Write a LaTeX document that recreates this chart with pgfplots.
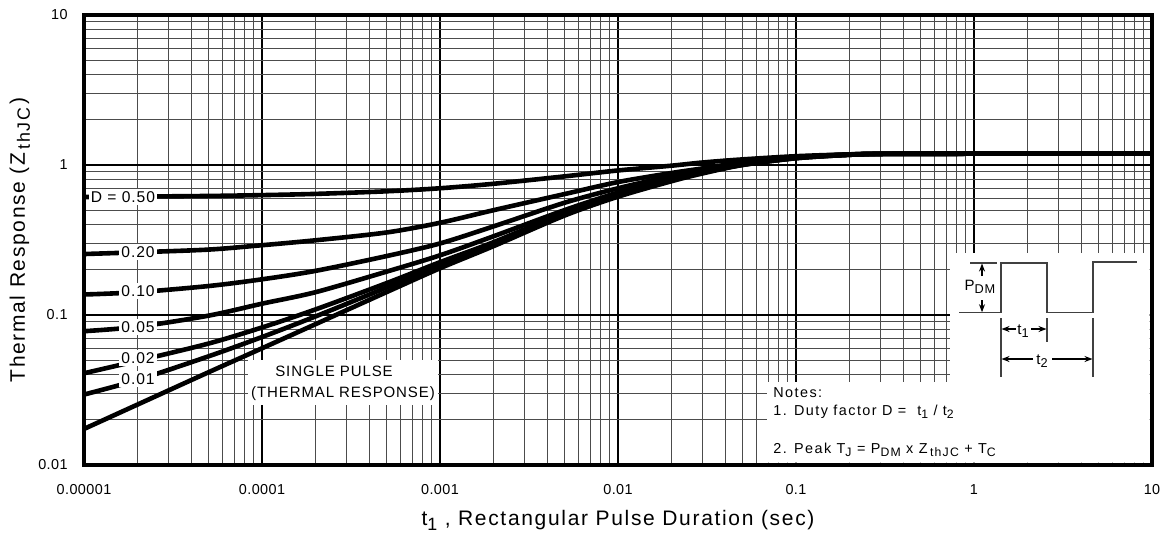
\documentclass[border=0pt]{standalone}
\usepackage{fontspec}
\setmainfont{Liberation Sans}
\newfontfamily\tickfont[LetterSpace=3]{Liberation Sans}
\newfontfamily\labfont[LetterSpace=8]{Liberation Sans}
\newfontfamily\annfont[LetterSpace=6]{Liberation Sans}
\newfontfamily\notefont[LetterSpace=10]{Liberation Sans}
\usepackage{pgfplots}
\pgfplotsset{compat=1.18}
\usetikzlibrary{arrows.meta}

% larger, lower subscripts as in the datasheet
\newcommand{\sub}[1]{\raisebox{-0.45ex}{\scalebox{0.85}{#1}}}

\pgfplotsset{zcurve/.style={black, solid, line width=2.3pt, smooth, mark=none}}

% single pulse and duty-cycle curves, Z_thJC vs t1
\pgfplotstableread{
t      sp      d01     d02     d05     d10     d20     d50
1e-5   0.0174  0.0295  0.0409  0.078   0.137   0.255   0.612
2e-5   0.0253  0.0369  0.0495  0.0835  0.142   0.262   0.616
5e-5   0.0415  0.053   0.0645  0.099   0.156   0.273   0.622
1e-4   0.060   0.0713  0.0826  0.119   0.173   0.292   0.630
2e-4   0.0869  0.0979  0.109   0.142   0.197   0.315   0.642
5e-4   0.142   0.1524  0.163   0.1945  0.247   0.355   0.668
1e-3   0.205   0.2149  0.225   0.25    0.30    0.412   0.70
2e-3   0.288   0.297   0.306   0.335   0.39    0.50    0.75
5e-3   0.46    0.47    0.48    0.50    0.56    0.64    0.84
1e-2   0.615   0.628   0.64    0.655   0.70    0.77    0.92
2e-2   0.78    0.79    0.80    0.815   0.845   0.885   0.99
3e-2   0.88    0.89    0.895   0.905   0.925   0.95    1.04
5e-2   1.00    1.002   1.005   1.015   1.025   1.04    1.09
0.1    1.11    1.11    1.115   1.12    1.125   1.13    1.145
0.2    1.17    1.17    1.17    1.175   1.175   1.175   1.178
0.3    1.185   1.185   1.185   1.187   1.187   1.186   1.188
1      1.19    1.19    1.19    1.19    1.19    1.19    1.19
10     1.19    1.19    1.19    1.19    1.19    1.19    1.19
}\zth

\begin{document}
\begin{tikzpicture}
\begin{axis}[
    at={(0,0)}, anchor=south west,
    scale only axis, width=534pt, height=225pt,
    xmode=log, ymode=log,
    xmin=1e-5, xmax=10, ymin=0.01, ymax=10,
    xtick={1e-5,1e-4,1e-3,1e-2,1e-1,1,10},
    xticklabels={0.00001,0.0001,0.001,0.01,0.1,1,10},
    ytick={0.01,0.1,1,10},
    yticklabels={0.01,0.1,1,10},
    grid=both,
    major grid style={black, line width=1pt},
    minor grid style={black!70, line width=0.55pt},
    major tick length=0pt, minor tick length=0pt,
    axis line style={line width=2.2pt},
    xticklabel style={anchor=center, yshift=-12.5pt, font=\tickfont\fontsize{7.2}{8}\selectfont},
    yticklabel style={anchor=east, inner sep=0pt, xshift=-8pt, font=\tickfont\fontsize{7.2}{8}\selectfont},
    xlabel={t\sub{1} , Rectangular Pulse Duration (sec)},
    ylabel={Thermal Response (Z\,\sub{thJC}\,)},
    xlabel style={at={(axis description cs:0.5,-0.1222)}, anchor=center, font=\labfont\fontsize{10.5}{12}\selectfont},
    ylabel style={at={(axis description cs:-0.06,0.5)}, anchor=center, font=\labfont\fontsize{10.5}{12}\selectfont},
]
\addplot[zcurve] table[x=t, y=d50] {\zth};
\addplot[zcurve] table[x=t, y=d20] {\zth};
\addplot[zcurve] table[x=t, y=d10] {\zth};
\addplot[zcurve] table[x=t, y=d05] {\zth};
\addplot[zcurve] table[x=t, y=d02] {\zth};
\addplot[zcurve] table[x=t, y=d01] {\zth};
\addplot[zcurve] table[x=t, y=sp]  {\zth};
\end{axis}

% annotations, in pixel units of the 1166x538 reference
\begin{scope}[x=0.5pt, y=-0.5pt, shift={(-42pt,232.5pt)}]
  \begin{scope}[every node/.style={fill=white, inner sep=1pt, font=\annfont\fontsize{7.8}{9}\selectfont}]
    \node at (123,197) {D = 0.50};
    \node at (138,252) {0.20};
    \node at (138,291) {0.10};
    \node at (138,327) {0.05};
    \node at (138,358) {0.02};
    \node at (138,379) {0.01};
  \end{scope}
  \fill[white] (248,360) rectangle (438,405);
  \node[font=\annfont\fontsize{7.5}{9}\selectfont] at (334,371) {SINGLE PULSE};
  \node[font=\annfont\fontsize{7.5}{9}\selectfont] at (343,394) {(THERMAL RESPONSE)};
  % notes panel
  \fill[white] (950,253) -- (1149.5,253) -- (1149.5,462.5) -- (767,462.5) -- (767,382) -- (950,382) -- cycle;
  \begin{scope}[black!75, line width=0.7pt]
    \draw (959,312.7) -- (1001,312.7) -- (1001,263) -- (1047,263) -- (1047,312.7)
          -- (1093,312.7) -- (1093,262) -- (1137,262);
    \draw (970,263) -- (997,263);
    \draw[-{Stealth[length=4pt,width=3pt]}, black] (982,276) -- (982,263.5);
    \draw[-{Stealth[length=4pt,width=3pt]}, black] (982,300) -- (982,312.2);
    \draw (1001,318) -- (1001,377);
    \draw (1047,318) -- (1047,342);
    \draw (1093,318) -- (1093,377);
    \draw[-{Stealth[length=4pt,width=3pt]}, black] (1016,329) -- (1001.5,329);
    \draw[-{Stealth[length=4pt,width=3pt]}, black] (1031,329) -- (1046.5,329);
    \draw[-{Stealth[length=4pt,width=3pt]}, black] (1033,359) -- (1001.5,359);
    \draw[-{Stealth[length=4pt,width=3pt]}, black] (1052,359) -- (1092.5,359);
  \end{scope}
  \node[font=\annfont\fontsize{7.5}{8}\selectfont] at (980,287) {P\sub{DM}};
  \node[font=\annfont\fontsize{7.5}{8}\selectfont] at (1023,331) {t\sub{1}};
  \node[font=\annfont\fontsize{7.5}{8}\selectfont] at (1042,361) {t\sub{2}};
  \begin{scope}[every node/.style={anchor=west, inner sep=0pt, font=\notefont\fontsize{7.2}{8}\selectfont}]
    \node at (773,393) {Notes:};
    \node at (773,412) {1. Duty factor D =\ \ t\sub{1} / t\sub{2}};
    \node at (773,450) {2. Peak T\sub{J} = P\sub{DM} x Z\,\sub{thJC} + T\sub{C}};
  \end{scope}
\end{scope}
\pgfresetboundingbox
\path[use as bounding box] (-42pt,-36.5pt) rectangle (541pt,232.5pt);
\end{tikzpicture}
\end{document}
